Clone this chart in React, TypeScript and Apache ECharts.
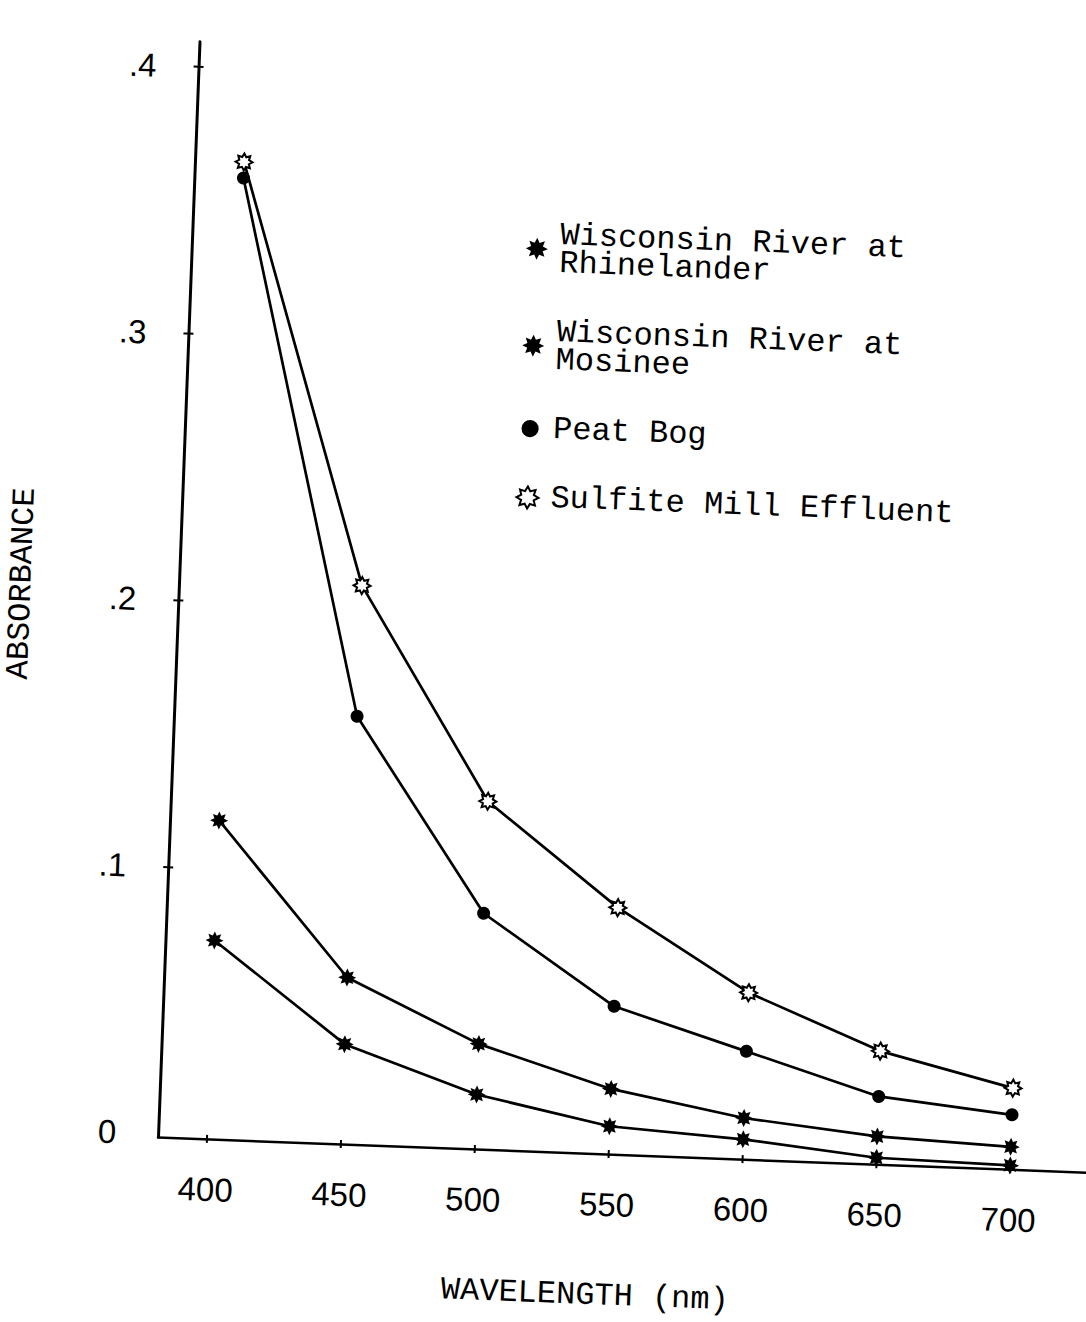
import React, { useEffect, useRef } from "react";
import * as echarts from "echarts";

// Wavelengths (nm) and absorbance readings per water sample
const wavelengths = [400, 450, 500, 550, 600, 650, 700];
const rhinelander = [0.073, 0.036, 0.019, 0.009, 0.006, 0.001, 0.0];
const mosinee = [0.118, 0.061, 0.038, 0.023, 0.014, 0.009, 0.007];
const peatBog = [0.359, 0.159, 0.087, 0.054, 0.039, 0.024, 0.019];
const sulfiteMill = [0.365, 0.208, 0.129, 0.091, 0.061, 0.041, 0.029];

const xTicks = [400, 450, 500, 550, 600, 650, 700];
const yTicks = [0.1, 0.2, 0.3, 0.4];
const yLabels = [0, 0.1, 0.2, 0.3, 0.4];

const seriesNames = [
  "Wisconsin River at\nRhinelander",
  "Wisconsin River at\nMosinee",
  "Peat Bog",
  "Sulfite Mill Effluent",
];

// The typed sheet sits slightly askew on the page
const TILT = 2.17;
// Spare room around the plot so rotated texts are not clipped by the svg
const PAD_X = 60;
const PAD_Y = 40;

function starPath(points: number, inner: number): string {
  let d = "";
  for (let i = 0; i < points * 2; i++) {
    const a = -Math.PI / 2 + (i * Math.PI) / points;
    const r = i % 2 === 0 ? 1 : inner;
    d += (i === 0 ? "M" : "L") + (r * Math.cos(a)).toFixed(3) + " " + (r * Math.sin(a)).toFixed(3) + " ";
  }
  return "path://" + d + "Z";
}

const ASTERISK = starPath(8, 0.58);
const OPEN_STAR = starPath(8, 0.62);
// Dot for the legend: two empty sub-paths at the corners keep the box square
// so the dot stays a little smaller than the star icons
const LEGEND_DOT =
  "path://M-1 -1Z M1 1Z M0 -0.78 A0.78 0.78 0 1 1 0 0.78 A0.78 0.78 0 1 1 0 -0.78Z";

const TYPE_FONT = "'Liberation Mono', 'DejaVu Sans Mono', monospace";
const HAND_FONT = "'Liberation Sans', 'DejaVu Sans', sans-serif";

function pairs(values: number[]) {
  return values.map((v, i) => [wavelengths[i], v]);
}

function buildOption(): echarts.EChartsOption {
  const xMin = 381.67;
  const xMax = 728.54;
  const yMin = -0.00143;
  const yMax = 0.4094;

  const lineStyle = { color: "#000", width: 2.7 };

  const filled = { color: "#000" };
  const hollow = { color: "#fff", borderColor: "#000", borderWidth: 2 };

  return {
    animation: false,
    backgroundColor: "#fff",
    grid: {
      left: 158 + PAD_X,
      top: 41 + PAD_Y,
      width: 929,
      height: 1096,
      outerBoundsMode: "none",
    } as any,
    legend: {
      orient: "vertical",
      left: 486 + PAD_X,
      top: 200 + PAD_Y,
      itemGap: 37,
      itemWidth: 36,
      itemHeight: 22,
      selectedMode: false,
      textStyle: {
        fontFamily: TYPE_FONT,
        fontSize: 32,
        lineHeight: 28,
        color: "#000",
      },
      data: [
        { name: seriesNames[0], icon: ASTERISK, itemStyle: filled },
        { name: seriesNames[1], icon: ASTERISK, itemStyle: filled },
        { name: seriesNames[2], icon: LEGEND_DOT, itemStyle: filled },
        { name: seriesNames[3], icon: OPEN_STAR, itemStyle: hollow },
      ],
    },
    xAxis: [
      {
        type: "value",
        position: "bottom",
        min: xMin,
        max: xMax,
        name: "WAVELENGTH (nm)",
        nameLocation: "middle",
        nameGap: 130,
        nameTextStyle: {
          fontFamily: TYPE_FONT,
          fontSize: 32,
          lineHeight: 24,
          color: "#000",
          padding: [0, 64, 0, 0],
        },
        axisLine: { show: true, onZero: false, lineStyle: { color: "#000", width: 2.5 } },
        axisTick: { show: true, inside: false, length: 4, customValues: xTicks, lineStyle: { color: "#000", width: 2 } } as any,
        axisLabel: {
          show: true,
          customValues: xTicks,
          margin: 34,
          fontFamily: HAND_FONT,
          fontSize: 33,
          color: "#000",
        } as any,
        splitLine: { show: false },
      },
      {
        type: "value",
        position: "bottom",
        min: xMin,
        max: xMax,
        axisLine: { show: false, onZero: false },
        axisTick: { show: true, inside: true, length: 4, customValues: xTicks, lineStyle: { color: "#000", width: 2 } } as any,
        axisLabel: { show: false },
        splitLine: { show: false },
      },
    ],
    yAxis: [
      {
        type: "value",
        position: "left",
        min: yMin,
        max: yMax,
        name: "ABSORBANCE",
        nameLocation: "middle",
        nameGap: 141,
        nameRotate: 90,
        nameTextStyle: { fontFamily: TYPE_FONT, fontSize: 32, color: "#000" },
        axisLine: { show: true, onZero: false, lineStyle: { color: "#000", width: 3 } },
        axisTick: { show: true, inside: false, length: 5, customValues: yTicks, lineStyle: { color: "#000", width: 2 } } as any,
        axisLabel: {
          show: true,
          customValues: yLabels,
          margin: 42,
          fontFamily: HAND_FONT,
          fontSize: 33,
          color: "#000",
          formatter: (v: number) => (v === 0 ? "0" : "." + Math.round(v * 10)),
        } as any,
        splitLine: { show: false },
      },
      {
        type: "value",
        position: "left",
        min: yMin,
        max: yMax,
        axisLine: { show: false, onZero: false },
        axisTick: { show: true, inside: true, length: 5, customValues: yTicks, lineStyle: { color: "#000", width: 2 } } as any,
        axisLabel: { show: false },
        splitLine: { show: false },
      },
    ],
    series: [
      {
        name: seriesNames[0],
        type: "line",
        data: pairs(rhinelander),
        symbol: ASTERISK,
        symbolSize: 18,
        lineStyle,
        itemStyle: filled,
        silent: true,
      },
      {
        name: seriesNames[1],
        type: "line",
        data: pairs(mosinee),
        symbol: ASTERISK,
        symbolSize: 18,
        lineStyle,
        itemStyle: filled,
        silent: true,
      },
      {
        name: seriesNames[2],
        type: "line",
        data: pairs(peatBog),
        symbol: "circle",
        symbolSize: 13,
        lineStyle,
        itemStyle: filled,
        silent: true,
      },
      {
        name: seriesNames[3],
        type: "line",
        data: pairs(sulfiteMill),
        symbol: OPEN_STAR,
        symbolSize: 17,
        lineStyle,
        itemStyle: hollow,
        silent: true,
      },
    ],
  } as echarts.EChartsOption;
}

export default function App() {
  const ref = useRef<HTMLDivElement>(null);

  useEffect(() => {
    if (!ref.current) return;
    const chart = echarts.init(ref.current, null, { renderer: "svg" });
    chart.setOption(buildOption());
    return () => chart.dispose();
  }, []);

  return (
    <div
      style={{
        position: "absolute",
        left: 0,
        top: 0,
        width: 1086,
        height: 1322,
        overflow: "hidden",
        background: "#fff",
      }}
    >
      <div
        ref={ref}
        style={{
          position: "absolute",
          left: -PAD_X,
          top: -PAD_Y,
          width: 1086 + 2 * PAD_X,
          height: 1322 + 2 * PAD_Y,
          transform: `rotate(${TILT}deg)`,
          transformOrigin: `${158 + PAD_X}px ${1137 + PAD_Y}px`,
        }}
      />
    </div>
  );
}
